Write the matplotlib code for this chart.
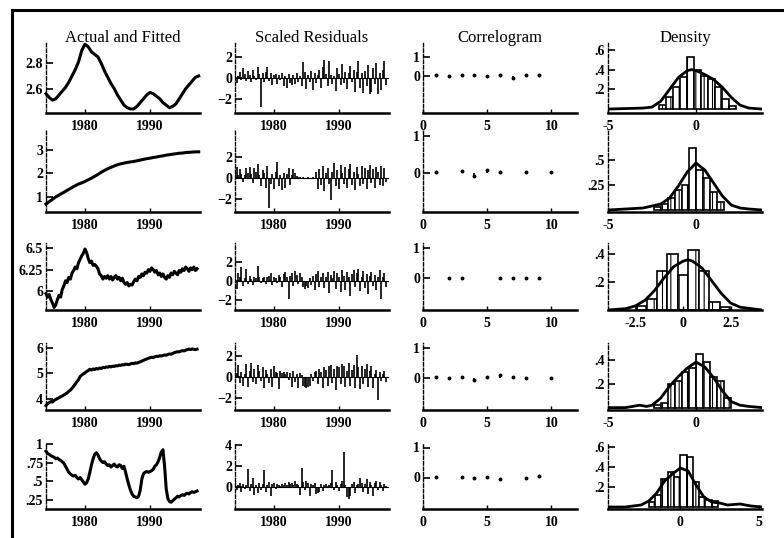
import numpy as np
import matplotlib.pyplot as plt
from matplotlib.lines import Line2D

plt.rcParams['font.family'] = ['Liberation Serif', 'DejaVu Serif']
plt.rcParams['hatch.linewidth'] = 0.8

# ---------------- data ----------------
# column titles
titles = ['Actual and Fitted', 'Scaled Residuals', 'Correlogram', 'Density']

# actual series, rows 1 and 2 (half-yearly, 1974.0 .. 1997.5)
t_half = np.arange(1974.0, 1997.51, 0.5)
act1 = [2.56, 2.53, 2.51, 2.52, 2.55, 2.58, 2.61, 2.65, 2.70, 2.75, 2.81, 2.90,
        2.95, 2.93, 2.89, 2.87, 2.85, 2.80, 2.74, 2.69, 2.64, 2.60, 2.55, 2.51,
        2.47, 2.45, 2.44, 2.44, 2.46, 2.49, 2.52, 2.55, 2.57, 2.56, 2.54, 2.52,
        2.49, 2.47, 2.45, 2.46, 2.48, 2.52, 2.56, 2.60, 2.63, 2.66, 2.69, 2.70]
act2 = [0.70, 0.80, 0.90, 1.00, 1.08, 1.16, 1.24, 1.32, 1.40, 1.48, 1.55, 1.60,
        1.66, 1.73, 1.80, 1.88, 1.96, 2.05, 2.13, 2.20, 2.26, 2.32, 2.37, 2.41,
        2.44, 2.47, 2.49, 2.51, 2.54, 2.57, 2.60, 2.63, 2.65, 2.68, 2.70, 2.73,
        2.75, 2.78, 2.80, 2.82, 2.84, 2.86, 2.87, 2.89, 2.90, 2.91, 2.92, 2.92]

# actual series, rows 3-5 (quarterly, 1974.00 .. 1997.25)
t_q = np.arange(1974.0, 1997.26, 0.25)
act3 = [5.97, 5.93, 5.96, 5.90,  5.86, 5.81, 5.84, 5.90,  5.95, 5.93, 6.02, 6.06,
        6.12, 6.10, 6.16, 6.14,  6.21, 6.24, 6.28, 6.26,  6.33, 6.37, 6.41, 6.44,
        6.49, 6.45, 6.38, 6.33,  6.35, 6.30, 6.31, 6.29,  6.26, 6.20, 6.18, 6.14,
        6.17, 6.15, 6.18, 6.14,  6.17, 6.13, 6.16, 6.18,  6.14, 6.16, 6.12, 6.15,
        6.10, 6.08, 6.10, 6.06,  6.08, 6.07, 6.11, 6.14,  6.12, 6.17, 6.16, 6.20,
        6.18, 6.22, 6.21, 6.25,  6.23, 6.27, 6.25, 6.22,  6.24, 6.19, 6.21, 6.17,
        6.20, 6.16, 6.14, 6.18,  6.16, 6.21, 6.19, 6.23,  6.21, 6.19, 6.24, 6.22,
        6.26, 6.24, 6.28, 6.26,  6.23, 6.27, 6.25, 6.28,  6.24, 6.26]
act4 = [3.72, 3.80, 3.84, 3.88,  3.86, 3.93, 3.96, 4.00,  4.03, 4.07, 4.10, 4.14,
        4.18, 4.22, 4.28, 4.33,  4.40, 4.48, 4.57, 4.66,  4.74, 4.86, 4.92, 4.97,
        5.01, 5.06, 5.10, 5.15,  5.12, 5.16, 5.14, 5.18,  5.16, 5.20, 5.18, 5.22,
        5.21, 5.24, 5.23, 5.26,  5.24, 5.27, 5.26, 5.29,  5.28, 5.31, 5.30, 5.33,
        5.32, 5.35, 5.34, 5.33,  5.36, 5.38, 5.37, 5.40,  5.39, 5.42, 5.44, 5.47,
        5.50, 5.53, 5.55, 5.58,  5.60, 5.62, 5.61, 5.64,  5.66, 5.65, 5.68, 5.67,
        5.69, 5.71, 5.70, 5.73,  5.75, 5.74, 5.77, 5.80,  5.82, 5.84, 5.83, 5.86,
        5.88, 5.87, 5.90, 5.92,  5.94, 5.92, 5.95, 5.93,  5.92, 5.94]
act5 = [0.90, 0.87, 0.86, 0.84,  0.83, 0.82, 0.80, 0.81,  0.79, 0.78, 0.76, 0.74,
        0.70, 0.66, 0.62, 0.60,  0.58, 0.57, 0.58, 0.55,  0.53, 0.55, 0.52, 0.49,
        0.46, 0.48, 0.53, 0.62,  0.72, 0.80, 0.86, 0.88,  0.85, 0.80, 0.77, 0.75,
        0.76, 0.73, 0.71, 0.72,  0.69, 0.71, 0.73, 0.70,  0.69, 0.72, 0.71, 0.67,
        0.70, 0.62, 0.53, 0.45,  0.38, 0.33, 0.30, 0.29,  0.28, 0.30, 0.38, 0.53,
        0.60, 0.62, 0.63, 0.62,  0.63, 0.64, 0.66, 0.70,  0.72, 0.76, 0.82, 0.89,
        0.92, 0.70, 0.40, 0.27,  0.23, 0.22, 0.24, 0.26,  0.28, 0.30, 0.29, 0.31,
        0.32, 0.31, 0.33, 0.34,  0.33, 0.35, 0.36, 0.35,  0.36, 0.37]

# scaled residuals (quarterly)
res1 = [0.3, -0.5, 0.2, 0.6, -0.2, 0.9, 0.4, -0.3, 0.7, 0.3, -0.4, 0.8, 0.2, -0.2, 1.0, 0.4,
        -2.7, 0.5, -0.4, 0.6, 1.0, -0.3, 0.5, -0.7, 0.3, 0.4, -0.6, 0.3, -0.2, 0.5, -0.8, 0.2,
        -0.9, 0.4, -0.5, -0.7, 0.3, -0.6, 0.5, -0.4, 0.2, -0.8, 1.5, 0.6, -1.0, 0.3, -0.4, 0.7,
        -1.1, 0.5, -0.5, 0.3, 0.8, -0.9, 1.0, 1.7, 0.4, -0.8, 1.6, 0.3, -0.6, 0.2, -1.2, 0.9,
        0.4, -0.7, 1.3, -0.5, 0.6, -1.0, 0.5, 1.1, -0.4, 0.8, -1.3, 0.6, 1.6, -0.9, 0.5, -1.4,
        0.7, -0.8, 1.2, -1.5, -1.3, 0.9, -0.6, 1.4, -1.5, 0.5, -1.1, 0.8, 1.6, -0.7]
res2 = [0.5, 1.0, 0.3, 0.8, 0.4, -0.4, 0.3, 0.9, 0.5, 1.0, 0.4, -0.5, 0.9, 0.6, 1.3, 0.3,
        -0.8, 0.7, 0.5, -0.9, 1.1, -2.8, -0.6, 0.4, -1.0, 0.6, 1.5, -0.8, 0.3, -1.1, 0.5, -0.9,
        0.4, 0.9, -0.7, 0.3, 0.8, 0.5, 0.2, 0.1, 0.1, 0.0, 0.1, -0.1, 0.0, 0.1, -0.1, 0.0,
        0.1, 0.0, 0.6, -1.0, 0.8, -0.7, 1.1, -1.2, 0.5, 0.9, -0.6, -2.1, 0.6, 1.4, -0.8, 0.7,
        -1.0, 1.2, 0.5, -0.6, 1.0, -0.9, 0.8, 1.3, -0.7, 0.6, -1.1, 1.0, 0.4, -0.8, 1.1, -0.6,
        0.9, -1.0, 0.7, 1.2, -0.5, 0.8, -0.9, 1.0, 0.6, -0.7, 1.1, -0.8, 0.9, -0.4]
res3 = [1.2, -0.8, 0.9, 0.4, 1.5, -0.5, 0.3, 1.3, -0.3, 0.6, 0.2, -0.4, 0.5, 0.3, 1.6, 0.4,
        -0.2, 0.3, 0.5, -0.3, 0.4, 0.6, 0.9, -0.4, 0.5, 0.3, -0.2, 0.7, 0.4, -0.6, 0.8, 1.0,
        0.5, -1.8, 0.6, 0.9, -0.5, 1.1, 0.7, -0.3, 0.9, 0.4, -0.6, -0.8, -0.5, -0.7, 0.3, -0.4,
        0.6, -0.9, 0.8, 1.1, -0.6, 0.5, 0.9, -0.7, 0.4, 1.0, -1.2, 0.7, 0.3, 1.1, -0.8, 0.9,
        0.5, -1.1, 1.2, 0.6, -0.9, 1.0, 0.4, -1.5, 0.8, 1.2, -0.6, 0.9, 1.3, -1.0, 0.5, 1.1,
        -0.7, 0.8, -1.3, 0.6, 1.0, -0.5, 0.7, -0.9, 0.4, 1.2, -1.8, 0.5, 0.9, -0.6]
res4 = [0.9, 0.4, 1.1, -0.6, 0.5, -0.8, 0.3, 1.2, -0.9, 0.6, 1.3, -0.5, 0.8, -0.7, 1.1, 0.6,
        -0.4, 0.9, -1.0, 0.7, 0.3, -0.6, 0.8, -0.9, 1.0, 0.5, 0.4, -1.1, 0.6, 0.4, 0.5, 0.3,
        0.5, -0.3, 0.4, -0.9, 0.6, -0.5, 0.3, -1.0, 0.4, 0.2, -0.8, -0.9, -1.0, -0.9, -0.8, 0.3,
        -0.4, 0.5, 0.6, -0.7, 0.8, 0.5, -1.0, 0.9, 0.7, -0.8, 1.0, 1.1, -0.6, 0.8, -1.2, 1.0,
        0.9, -0.7, 1.2, 1.0, -0.9, 0.6, 1.3, -0.8, 0.7, 1.1, -1.0, 2.1, 0.9, -1.1, 1.0, -0.7,
        0.8, 1.2, -0.9, 0.6, 1.0, -1.0, 0.3, 0.7, -2.2, 0.5, -0.4, 0.3, 0.6, -0.5]
res5 = [0.6, -0.3, 0.2, 0.4, -0.5, 0.3, -0.2, 0.2, 1.7, -0.4, 0.3, 0.9, -0.8, 0.2, -0.6, 0.4,
        -0.3, 0.3, 1.6, -0.5, 0.2, 0.5, -0.9, 0.3, 0.4, -0.2, 0.3, 0.2, 0.1, 0.3, 0.2, 0.4,
        0.2, 0.5, 0.3, 0.4, 0.2, 0.6, 0.3, 0.2, -0.8, 1.8, 0.5, -0.3, 0.6, 0.4, -0.9, 0.3,
        0.2, 0.4, -0.7, -0.6, -0.5, 0.3, -0.4, 0.2, 0.3, 0.1, 0.2, 0.4, 1.6, -0.3, 0.5, 0.2,
        -0.4, 0.3, 0.6, 3.3, 0.2, -1.0, -1.1, -0.9, 0.3, 0.5, -0.6, 0.2, 0.3, 0.9, 0.4, -0.5,
        0.3, 0.8, -0.7, 0.5, 0.2, -0.9, 0.4, 0.6, -0.3, 0.5, 0.2, -0.4, 0.3, 0.1]

# correlograms, lags 1..10 (nan = no visible point)
lags = np.arange(1, 11)
corr1 = [0.05, -0.02, 0.06, 0.03, -0.03, 0.04, -0.10, 0.03, 0.05, np.nan]
corr2 = [0.02, np.nan, 0.05, -0.08, 0.08, 0.03, np.nan, 0.02, np.nan, 0.01]
corr3 = [np.nan, 0.01, 0.01, np.nan, np.nan, 0.01, 0.01, 0.01, 0.01, np.nan]
corr4 = [0.02, 0.01, 0.03, -0.05, 0.03, 0.10, 0.02, 0.01, np.nan, 0.01]
corr5 = [0.03, np.nan, 0.02, -0.03, 0.02, -0.04, np.nan, -0.02, 0.05, np.nan]

# density histograms: bar centres, heights, width
hx1 = [-1.9, -1.5, -1.1, -0.7, -0.3, 0.1, 0.5, 0.9, 1.3, 1.7, 2.1]
hy1 = [0.04, 0.12, 0.22, 0.33, 0.53, 0.40, 0.34, 0.30, 0.22, 0.10, 0.03]
hx2 = [-2.2, -1.8, -1.4, -1.0, -0.6, -0.2, 0.2, 0.6, 1.0, 1.4]
hy2 = [0.03, 0.06, 0.12, 0.20, 0.25, 0.62, 0.40, 0.32, 0.18, 0.08]
hx3 = [-2.2, -1.65, -1.1, -0.55, 0.0, 0.55, 1.1, 1.65, 2.2]
hy3 = [0.03, 0.08, 0.28, 0.40, 0.25, 0.43, 0.28, 0.06, 0.02]
hx4 = [-2.2, -1.8, -1.4, -1.0, -0.6, -0.2, 0.2, 0.6, 1.0, 1.4, 1.8]
hy4 = [0.02, 0.04, 0.20, 0.22, 0.30, 0.33, 0.45, 0.38, 0.26, 0.22, 0.08]
hx5 = [-1.8, -1.4, -1.0, -0.6, -0.2, 0.2, 0.6, 1.0, 1.4, 1.8, 2.2]
hy5 = [0.05, 0.12, 0.28, 0.35, 0.30, 0.52, 0.50, 0.25, 0.10, 0.07, 0.06]
hw = [0.4, 0.4, 0.55, 0.4, 0.4]

# density curves
dx1 = [-5, -4, -3, -2.5, -2.0, -1.5, -1.0, -0.5, -0.25, 0, 0.5, 1.0, 1.5, 2.0, 2.5, 3.0, 3.75]
dy1 = [0.0, 0.005, 0.01, 0.02, 0.08, 0.20, 0.32, 0.39, 0.40, 0.39, 0.35, 0.30, 0.22, 0.12, 0.04, 0.01, 0.0]
dx2 = [-5, -4, -3, -2.5, -2, -1.5, -1, -0.5, 0, 0.5, 1, 1.5, 2, 2.5, 3, 3.75]
dy2 = [0.0, 0.01, 0.02, 0.04, 0.06, 0.12, 0.24, 0.38, 0.47, 0.40, 0.27, 0.14, 0.05, 0.02, 0.01, 0.0]
dx3 = [-3.95, -3.0, -2.5, -2.0, -1.5, -1.0, -0.5, 0.0, 0.25, 0.5, 1.0, 1.5, 2.0, 2.5, 3.0, 4.15]
dy3 = [0.0, 0.01, 0.03, 0.07, 0.14, 0.23, 0.31, 0.35, 0.36, 0.35, 0.30, 0.21, 0.12, 0.05, 0.02, 0.0]
dx4 = [-5, -4, -3.2, -2.8, -2.5, -2, -1.5, -1, -0.5, 0, 0.5, 1, 1.5, 2, 2.5, 3, 3.75]
dy4 = [0.0, 0.0, 0.02, 0.01, 0.02, 0.08, 0.18, 0.26, 0.33, 0.38, 0.34, 0.25, 0.14, 0.05, 0.02, 0.01, 0.0]
dx5 = [-4.6, -3.5, -2.5, -2.0, -1.5, -1.0, -0.5, 0.0, 0.5, 1.0, 1.5, 2.0, 2.5, 3.0, 3.8, 4.5, 5.2]
dy5 = [0.0, 0.0, 0.02, 0.06, 0.14, 0.26, 0.33, 0.39, 0.36, 0.22, 0.10, 0.05, 0.04, 0.02, 0.03, 0.01, 0.0]

# axis settings per row
act_ticks = [[2.6, 2.8], [1, 2, 3], [6, 6.25, 6.5], [4, 5, 6], [0.25, 0.5, 0.75, 1]]
act_tlabels = [['2.6', '2.8'], ['1', '2', '3'], ['6', '6.25', '6.5'], ['4', '5', '6'],
               ['.25', '.5', '.75', '1']]
act_lims = [(2.408, 2.96), (0.36, 3.85), (5.78, 6.56), (3.55, 6.18), (0.13, 1.01)]
res_ticks = [[-2, 0, 2], [-2, 0, 2], [-2, 0, 2], [-2, 0, 2], [0, 2, 4]]
res_lims = [(-3.3, 3.3), (-3.2, 4.5), (-3.0, 4.0), (-3.1, 3.2), (-2.1, 4.2)]
corr_lims = [(-2.0, 1.75), (-1.05, 1.15), (-1.05, 1.15), (-1.05, 1.15), (-1.05, 1.15)]
den_ticks = [[0.2, 0.4, 0.6], [0.25, 0.5], [0.2, 0.4], [0.2, 0.4], [0.2, 0.4, 0.6]]
den_tlabels = [['.2', '.4', '.6'], ['.25', '.5'], ['.2', '.4'], ['.2', '.4'], ['.2', '.4', '.6']]
den_lims = [(-0.04, 0.67), (-0.02, 0.8), (0.0, 0.48), (-0.02, 0.54), (-0.02, 0.64)]
den_xticks = [[-5, 0], [-5, 0], [-2.5, 0, 2.5], [-5, 0], [0, 5]]
den_xlabels = [['-5', '0'], ['-5', '0'], ['-2.5', '0', '2.5'], ['-5', '0'], ['0', '5']]
den_xlims = [(-5, 3.75), (-5, 3.75), (-3.95, 4.15), (-5, 3.75), (-4.6, 5.2)]

acts = [(t_half, act1), (t_half, act2), (t_q, act3), (t_q, act4), (t_q, act5)]
resids = [res1, res2, res3, res4, res5]
corrs = [corr1, corr2, corr3, corr4, corr5]
hists = [(hx1, hy1), (hx2, hy2), (hx3, hy3), (hx4, hy4), (hx5, hy5)]
dens = [(dx1, dy1), (dx2, dy2), (dx3, dy3), (dx4, dy4), (dx5, dy5)]

# ---------------- layout (pixels) ----------------
W, H = 784, 538
col_left = [46, 235, 423, 608]
col_w = 154
row_bot = [113, 212, 310, 410, 509]
row_top = [43, 130, 243, 343, 443]

fig = plt.figure(figsize=(W / 100, H / 100), dpi=100)


def make_ax(c, r):
    ax = fig.add_axes([col_left[c] / W, 1 - row_bot[r] / H,
                       col_w / W, (row_bot[r] - row_top[r]) / H])
    for s in ['top', 'right']:
        ax.spines[s].set_visible(False)
    ax.spines['bottom'].set_linewidth(1.8)
    ax.spines['left'].set_linewidth(1.0)
    ax.spines['left'].set_linestyle((0, (2.5, 1.5)))
    ax.tick_params(axis='y', direction='in', length=5, width=1.2, pad=2, labelsize=10)
    ax.tick_params(axis='x', direction='in', length=3, width=1.0, pad=5, labelsize=10)
    return ax


def bold_labels(ax):
    for lab in ax.get_xticklabels() + ax.get_yticklabels():
        lab.set_fontweight('bold')


for r in range(5):
    # actual and fitted
    ax = make_ax(0, r)
    tx, ty = acts[r]
    ax.plot(tx, ty, color='black', lw=2.2, clip_on=False)
    ax.set_xlim(1974, 1997.7)
    ax.set_ylim(*act_lims[r])
    ax.set_xticks([1980, 1990])
    ax.set_yticks(act_ticks[r])
    ax.set_yticklabels(act_tlabels[r])
    bold_labels(ax)

    # scaled residuals
    ax = make_ax(1, r)
    ax.axhline(0, color='black', lw=0.8)
    ax.vlines(t_q, 0, resids[r], color='black', lw=1.2)
    ax.set_xlim(1974, 1997.7)
    ax.set_ylim(*res_lims[r])
    ax.set_xticks([1980, 1990])
    ax.set_yticks(res_ticks[r])
    bold_labels(ax)

    # correlogram
    ax = make_ax(2, r)
    cv = np.array(corrs[r], dtype=float)
    ok = ~np.isnan(cv)
    ax.vlines(lags[ok], 0, cv[ok], color='black', lw=1.2)
    ax.plot(lags[ok], cv[ok], 'o', color='black', ms=1.8)
    ax.set_xlim(0, 12)
    ax.set_ylim(*corr_lims[r])
    ax.set_xticks([0, 5, 10])
    ax.set_yticks([0, 1])
    bold_labels(ax)

    # density
    ax = make_ax(3, r)
    hx, hy = hists[r]
    ax.bar(hx, hy, width=hw[r], color='white', edgecolor='black', lw=1.2, hatch='||')
    dx, dy = dens[r]
    ax.plot(dx, dy, color='black', lw=2.0)
    ax.set_xlim(*den_xlims[r])
    ax.set_ylim(*den_lims[r])
    ax.set_xticks(den_xticks[r])
    ax.set_xticklabels(den_xlabels[r])
    ax.set_yticks(den_ticks[r])
    ax.set_yticklabels(den_tlabels[r])
    bold_labels(ax)

# column titles
for c, title in enumerate(titles):
    fig.text((col_left[c] + col_w / 2) / W, 1 - 38 / H, title, ha='center', va='center',
             fontsize=12)

# outer frame (top and left edges)
fig.add_artist(Line2D([12 / W, 1], [1 - 10 / H, 1 - 10 / H], transform=fig.transFigure,
                      color='black', lw=2.2))
fig.add_artist(Line2D([12 / W, 12 / W], [0, 1 - 10 / H], transform=fig.transFigure,
                      color='black', lw=2.2))

fig.savefig('out.png', dpi=100)
